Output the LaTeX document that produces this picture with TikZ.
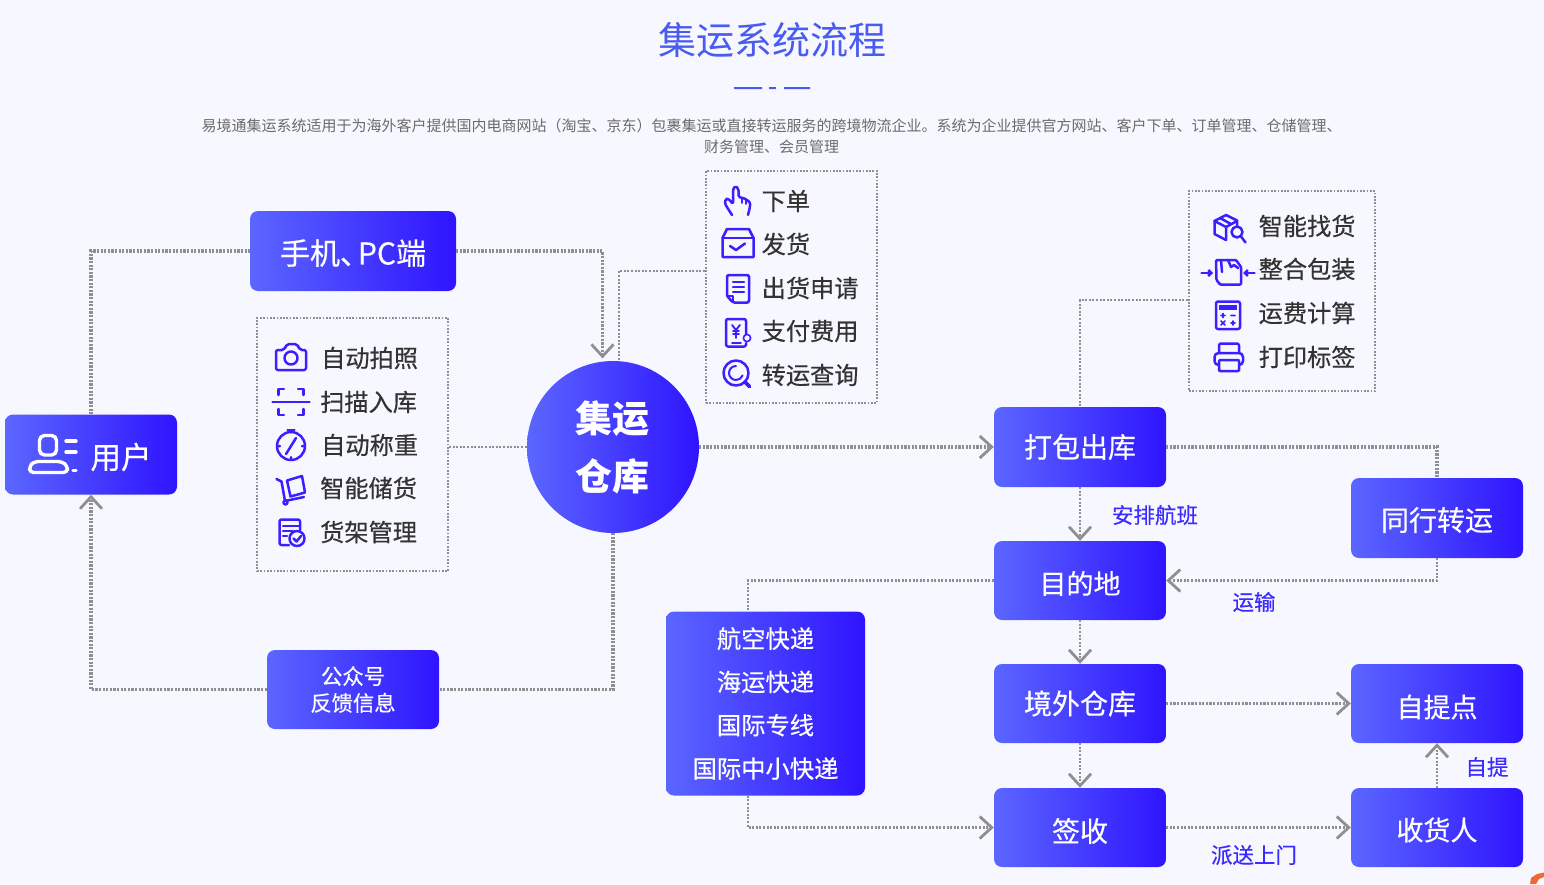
\documentclass[tikz,border=0pt]{standalone}
\usepackage{fontspec}
\setmainfont{Noto Sans CJK SC}
\newfontfamily\medf[FakeBold=0.4]{Noto Sans CJK SC}
\usetikzlibrary{arrows.meta,calc}
\definecolor{bgc}{HTML}{F7F8FF}
\definecolor{gl}{HTML}{5B66FF}
\definecolor{gr}{HTML}{2F14FF}
\definecolor{ttl}{HTML}{4A5BEF}
\definecolor{lnk}{HTML}{8F8F8F}
\definecolor{ico}{HTML}{3A20FF}
\definecolor{lbl}{HTML}{3B2BFF}
\definecolor{cornerc}{HTML}{EE6A35}
\newcommand{\fz}[1]{\fontsize{#1}{#1}\selectfont}
\newcommand{\dn}[2]{\rule{0pt}{\dimexpr 0.88em+#1pt+#1pt\relax}#2}
\tikzset{
  fbox/.style={rounded corners=8pt,left color=gl,right color=gr,draw=none,inner sep=0pt,text=white,align=center},
  cbox/.style={fbox,minimum width=172pt,minimum height=80pt,font=\medf\fz{28}},
  dotbox/.style={draw=lnk,line width=1.9pt,dash pattern=on 1.7pt off 1.6pt,inner sep=0pt},
  lk/.style={draw=lnk,line width=2.3pt,dash pattern=on 2pt off 1.6pt},
  lkb/.style={draw=lnk,line width=3.3pt,dash pattern=on 2.2pt off 1.4pt},
  tip/.style={-{Straight Barb[length=12pt,width=22pt,line width=2.8pt,color=lnk]}},
  rowt/.style={anchor=west,inner sep=0pt,text=black!80,font=\medf\fz{24.2}},
  bluelab/.style={inner sep=0pt,text=lbl,font=\medf\fz{21.5}},
  ic/.style={draw=ico,line width=2.5pt,line join=round,line cap=round},
  icw/.style={draw=white,line width=3.4pt,line join=round,line cap=round},
  icf/.style={ic,fill=bgc},
}
\begin{document}
\begin{tikzpicture}[x=1pt,y=-1pt]
\useasboundingbox (0,0) rectangle (1544,884);
\fill[bgc] (0,0) rectangle (1544,884);
% header
\node[text=ttl,inner sep=0pt,font=\fz{38}] (title) at (772,40) {集运系统流程};
\fill[ttl] (734,87) rectangle (762,89) (769,87) rectangle (776,89) (784,87) rectangle (810,89);
\node[text=black!58,inner sep=0pt,align=center,font=\fz{15}] (sub) at (771.5,136.5) {易境通集运系统适用于为海外客户提供国内电商网站（淘宝、京东）包裹集运或直接转运服务的跨境物流企业。系统为企业提供官方网站、客户下单、订单管理、仓储管理、\\[6pt]财务管理、会员管理};
% main boxes
\node[cbox] (user) at (91,454.5) {};
\node[inner sep=0pt,text=white,font=\medf\fz{30.5}] (usert) at (121,457) {用户};
\node[cbox,minimum width=206pt,font=\medf\fz{30}] (phone) at (353,251) {\dn{1.5}{手机、\hspace{-12pt}PC端}};
\node[fbox,circle,minimum size=172pt,font=\bfseries\fz{37},align=center] (hub) at (613,447) {\hspace{-2pt}集运\\[21pt]\hspace{-2pt}仓库};
\node[cbox,minimum height=79pt,font=\medf\fz{21.3}] (wx) at (353,689.5) {公众号\\[5.5pt]反馈信息};
\node[cbox] (pack) at (1080,447) {打包出库};
\node[cbox,minimum height=79pt,font=\medf\fz{27}] (dest) at (1080,580.5) {\dn{2.5}{目的地}};
\node[cbox,minimum height=79pt] (wh) at (1080,703.5) {境外仓库};
\node[cbox,minimum height=79pt] (sign) at (1080,827.5) {\dn{3}{签收}};
\node[cbox] (peer) at (1437,518) {\dn{1.5}{同行转运}};
\node[cbox,minimum height=79pt,font=\medf\fz{27}] (self) at (1437,703.5) {\dn{3}{自提点}};
\node[cbox,minimum height=79pt,font=\medf\fz{27}] (recv) at (1437,827.5) {\dn{2}{收货人}};
\node[fbox,minimum width=199pt,minimum height=184pt,font=\medf\fz{24.3}] (svc) at (765.5,703.5) {航空快递\\[19pt]海运快递\\[19pt]国际专线\\[19pt]国际中小快递};
% dotted panels
\node[dotbox,minimum width=191pt,minimum height=253pt] (pa) at (352.5,444.5) {};
\node[dotbox,minimum width=171pt,minimum height=232pt] (pb) at (791.5,287) {};
\node[dotbox,minimum width=186pt,minimum height=200pt] (pc) at (1282,291) {};
% panel rows
\node[rowt] (a1) at (321,358) {自动拍照};
\node[rowt] (a2) at (320,402) {扫描入库};
\node[rowt] (a3) at (321,445) {自动称重};
\node[rowt] (a4) at (320,488) {智能储货};
\node[rowt] (a5) at (320,532) {货架管理};
\node[rowt] (b1) at (761.5,201) {下单};
\node[rowt] (b2) at (761.5,244) {发货};
\node[rowt] (b3) at (761.5,288) {出货申请};
\node[rowt] (b4) at (761.5,331) {支付费用};
\node[rowt] (b5) at (761.5,375) {转运查询};
\node[rowt] (c1) at (1258.5,226) {智能找货};
\node[rowt] (c2) at (1258.5,269) {整合包装};
\node[rowt] (c3) at (1258.5,313) {运费计算};
\node[rowt] (c4) at (1258.5,357) {打印标签};
% edge labels
\node[bluelab] (l1) at (1155,515) {安排航班};
\node[bluelab] (l2) at (1254,602) {运输};
\node[bluelab] (l3) at (1487,767) {自提};
\node[bluelab] (l4) at (1254,855) {派送上门};
% connectors
\draw[lkb] (user.north) |- (phone.west);
\draw[lkb,tip,shorten >=3pt] (phone.east) -| (hub.97);
\draw[lk] (pb.west |- 0,271) -| (hub.86);
\draw[lk] (pa.east |- hub.west) -- (hub.west);
\draw[lkb,tip] (hub.east) -- (pack.west);
\draw[lk] (pc.west |- 0,300) -| (pack.north);
\draw[lkb] (pack.east) -| (peer.north);
\draw[lk,tip] (peer.south) |- (dest.east);
\draw[lk,tip] (pack.south) -- (dest.north);
\draw[lk] (dest.west) -| (svc.north -| 748,0);
\draw[lk,tip] (svc.south -| 748,0) |- (sign.west);
\draw[lk,tip] (dest.south) -- (wh.north);
\draw[lk,tip] (wh.south) -- (sign.north);
\draw[lkb,tip] (wh.east) -- (self.west);
\draw[lk,tip] (sign.east) -- (recv.west);
\draw[lk,tip] (recv.north) -- (self.south);
\draw[lkb] (hub.south) |- (wx.east);
\draw[lkb,tip] (wx.west) -| (user.south);
% user icon
\draw[icw,rounded corners=5pt] (39.5,435.5) rectangle (56.5,455);
\draw[icw,rounded corners=4pt] (29.5,472.5) -- (29.5,466) -- (34,461.5) -- (62,461.5) -- (67.5,466) -- (67.5,472.5) -- cycle;
\draw[icw] (66,441) -- (76,441) (66,452) -- (76,452) (73,470.5) -- (76,470.5);
% camera
\draw[ic,rounded corners=2pt] (276,350) -- (284,350) -- (287,344) -- (297,344) -- (300,350) -- (306,350) -- (306,370) -- (276,370) -- cycle;
\draw[ic] (291,358) circle (6.5);
% scan
\draw[ic] (272.5,402) -- (309.5,402);
\draw[ic] (278.5,395) -- (278.5,389) -- (284,389) (298,389) -- (303.5,389) -- (303.5,395) (278.5,409) -- (278.5,415) -- (284,415) (298,415) -- (303.5,415) -- (303.5,409);
% stopwatch
\draw[ic] (291,446) circle (14);
\draw[ic] (287.5,430) -- (294.5,430) (291,430) -- (291,432);
\draw[ic] (296,438) -- (286,454) (278,446) -- (280,446) (302,446) -- (304,446) (291,457) -- (291,459);
% trolley
\draw[ic] (276.5,479) -- (281.5,481.5) -- (285,501) -- (304,497);
\draw[ic] (287,480.5) -- (302,476) -- (305,492.5) -- (290.5,496.5) -- cycle;
\draw[ic] (285.5,502.5) circle (2);
% shelf doc
\draw[ic,rounded corners=2pt] (300,530) -- (300,519.5) -- (279.5,519.5) -- (279.5,545) -- (289,545);
\draw[ic] (283,526) -- (299,526) (283,531) -- (293,531) (283,536) -- (287,536);
\draw[icf] (297,538.5) circle (7.5);
\draw[ic] (293.5,538.5) -- (296.5,541.5) -- (301,536);
% hand
\draw[ic,rounded corners=1.5pt] (732,215) -- (725,204) -- (725.5,199) -- (728,198.5) -- (733,204) -- (733,189) -- (735.5,186) -- (738.5,189) -- (738.5,197) -- (743,198) -- (746.5,199.5) -- (750.5,203) -- (749.5,209) -- (748,215);
\draw[ic,line width=1.5pt] (742,198) -- (742,203) (746,199.5) -- (746,204);
% box
\draw[ic] (722.5,238) -- (727,229) -- (749,229) -- (753.5,238) -- (753.5,257) -- (722.5,257) -- cycle;
\draw[ic] (722.5,238) -- (753.5,238);
\draw[ic] (730,246) -- (736,250) -- (745,243.5);
% doc
\draw[ic,rounded corners=1.5pt] (727,296) -- (727,275) -- (749,275) -- (749,302.5) -- (733,302.5) -- cycle;
\draw[ic] (733,282) -- (744,282) (733,287) -- (744,287) (733,292) -- (744,292) (727,296) -- (733,296) -- (733,302);
% pay
\draw[ic,rounded corners=2pt] (746,334) -- (746,319) -- (726,319) -- (726,346.5) -- (746,346.5) -- (746,343);
\draw[ic,line width=1.6pt] (732,343) -- (741,343);
\draw[ic,line width=1.9pt] (732,325) -- (736,330) -- (740,325) (736,330) -- (736,338) (733,331) -- (739,331) (733,334) -- (739,334);
\draw[ic,line width=1.6pt,fill=bgc] (747,338) circle (3.6);
% search
\draw[ic] (736,373) circle (12.5);
\draw[ic,line width=2pt] (729,373) arc (180:20:7);
\draw[ic,line width=2pt] (729,373) arc (180:270:7);
\draw[ic,line width=3.8pt] (745,382) -- (749.5,386.5);
% cube + magnifier
\draw[ic] (1226,215) -- (1237,220.5) -- (1237,228) (1226,240) -- (1214.5,234) -- (1214.5,221) -- (1226,215);
\draw[ic] (1214.5,221) -- (1226,227) -- (1237,221) (1226,227) -- (1226,240) (1220,218) -- (1231,224);
\draw[icf] (1237,232) circle (5.5);
\draw[ic] (1241,236.5) -- (1245.5,242.5);
% packing
\draw[ic,->,>={Straight Barb[length=3pt,width=6pt]}] (1201.5,273) -- (1213,273);
\draw[ic,->,>={Straight Barb[length=3pt,width=6pt]}] (1254.5,273) -- (1243,273);
\draw[ic,rounded corners=1pt] (1216,260) -- (1236,260) -- (1241,267) -- (1241,284.5) -- (1220,284.5) -- (1216.5,280) -- cycle;
\draw[ic] (1221,260) -- (1222,272) (1228,260) -- (1231,267) -- (1234,265) -- (1238,268);
% calculator
\draw[ic,rounded corners=2pt] (1216,301.5) rectangle (1240,329);
\fill[ico] (1219,305) rectangle (1237,309.5);
\draw[ic,line width=1.6pt] (1221,315.5) -- (1225,315.5) (1223,313.5) -- (1223,317.5) (1231,315.5) -- (1235,315.5) (1221,321) -- (1225,325) (1225,321) -- (1221,325) (1231,323) -- (1235,323) (1233,321) -- (1233,325);
% printer
\draw[ic,rounded corners=2pt] (1219,353) -- (1219,343.5) -- (1239,343.5) -- (1239,353);
\draw[ic,rounded corners=4pt] (1219,365) -- (1214.5,365) -- (1214.5,353) -- (1243,353) -- (1243,365) -- (1239,365);
\draw[icf,rounded corners=1pt] (1219,360) rectangle (1239,371);
% corner mark
\fill[cornerc] (1530,884) -- (1531,878) -- (1537,874) -- (1544,872.5) -- (1544,877) -- (1539,879) -- (1536,884) -- cycle;
\end{tikzpicture}
\end{document}
